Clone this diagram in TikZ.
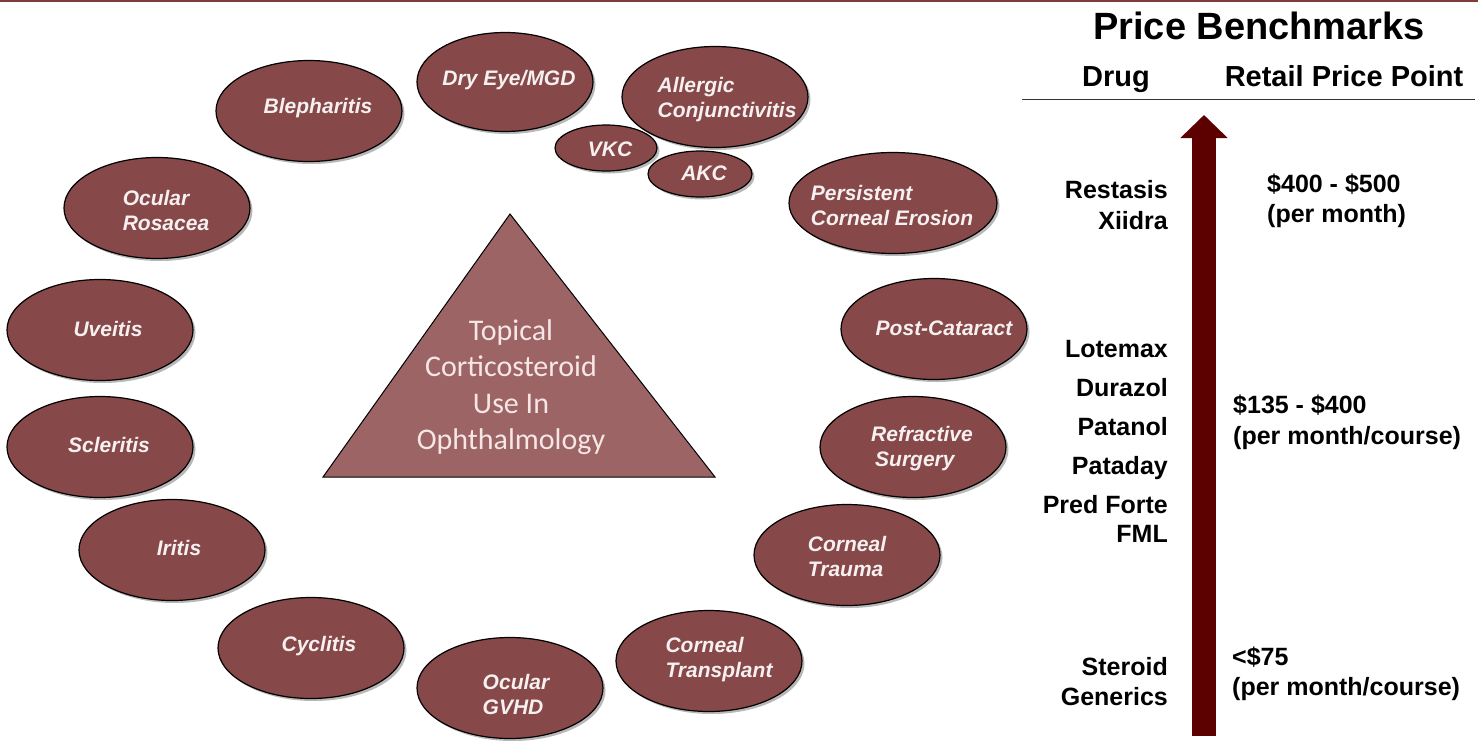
\documentclass[tikz,border=0pt]{standalone}
\usepackage{fontspec}
\setmainfont{Liberation Sans}
\newfontfamily\calib{Carlito}
\usetikzlibrary{shapes.geometric,shadows,arrows.meta}
\definecolor{bubfill}{RGB}{134,72,72}
\definecolor{bubtext}{RGB}{246,240,240}
\definecolor{trifill}{RGB}{156,100,100}
\definecolor{tritext}{RGB}{246,230,230}
\definecolor{arrowcol}{RGB}{92,0,0}
\definecolor{topcol}{RGB}{128,60,60}
\tikzset{
  bub/.style={ellipse, draw=black, line width=1.2pt, fill=bubfill, minimum width=186pt, minimum height=101pt, inner sep=0pt,
    drop shadow={shadow xshift=2.5pt, shadow yshift=-2.5pt, opacity=0.28, fill=black}},
  btxt/.style={font=\bfseries\itshape\fontsize{21}{25}\selectfont, text=bubtext, align=left, inner sep=0pt},
  tri/.style={draw=black, line width=1pt, fill=trifill},
  tritxt/.style={font=\calib\fontsize{30}{36.5}\selectfont, text=tritext, align=center, inner sep=0pt},
  rtitle/.style={font=\bfseries\fontsize{38}{44}\selectfont, inner sep=0pt},
  rhead/.style={font=\bfseries\fontsize{29}{34}\selectfont, inner sep=0pt},
  rtxt/.style={font=\bfseries\fontsize{25}{30}\selectfont, inner sep=0pt},
  bigarrow/.style={draw=arrowcol, line width=24pt, -{Triangle[width=46pt,length=23pt]}},
}
\begin{document}
\begin{tikzpicture}[x=1pt,y=-1pt]
\useasboundingbox (0,0) rectangle (1478,742);
\fill[white] (0,0) rectangle (1478,742);
\draw[topcol, line width=2.5pt] (0,1.2) -- (1478,1.2);

% ellipses
\node[bub] (bleph) at (309,111) {};
\node[bub, minimum width=176pt, minimum height=99pt] (dry) at (505,82) {};
\node[bub] (allerg) at (715,97) {};
\node[bub, minimum width=102pt, minimum height=46pt] (vkc) at (606,148) {};
\node[bub, minimum width=104pt, minimum height=46pt] (akc) at (700,174) {};
\node[bub, minimum width=208pt] (persist) at (893,203) {};
\node[bub] (rosacea) at (157,208) {};
\node[bub] (uveitis) at (100,330) {};
\node[bub] (scler) at (100,447) {};
\node[bub] (iritis) at (172,550) {};
\node[bub] (cycl) at (311,648) {};
\node[bub] (gvhd) at (510,688) {};
\node[bub] (transp) at (709,661) {};
\node[bub] (trauma) at (847,555) {};
\node[bub] (refr) at (913,447) {};
\node[bub] (postcat) at (934,329) {};

% ellipse texts
\node[btxt] (bleph-t) at (318,108) {Blepharitis};
\node[btxt] (dry-t) at (509,80) {Dry Eye/MGD};
\node[btxt] (allerg-t) at (727,100) {Allergic\\Conjunctivitis};
\node[btxt] (vkc-t) at (610,149) {VKC};
\node[btxt] (akc-t) at (704,173) {AKC};
\node[btxt] (persist-t) at (892,205) {Persistent\\Corneal Erosion};
\node[btxt] (rosacea-t) at (166,210) {Ocular\\Rosacea};
\node[btxt] (uveitis-t) at (108,329) {Uveitis};
\node[btxt] (scler-t) at (109,445) {Scleritis};
\node[btxt] (iritis-t) at (179,548) {Iritis};
\node[btxt] (cycl-t) at (319,646) {Cyclitis};
\node[btxt] (gvhd-t) at (516,694) {Ocular\\GVHD};
\node[btxt] (transp-t) at (719,660) {Corneal\\Transplant};
\node[btxt] (trauma-t) at (847,556) {Corneal\\Trauma};
\node[btxt] (refr-t) at (922,449) {Refractive\\\hspace*{4pt}Surgery};
\node[btxt] (postcat-t) at (944,328) {Post-Cataract};

% central triangle
\coordinate (tA) at (510,214);
\coordinate (tB) at (323,477);
\coordinate (tC) at (715,477);
\draw[tri] (tA) -- (tB) -- (tC) -- cycle;
\node[tritxt] (tri-t) at (511,387) {Topical\\Corticosteroid\\Use In\\Ophthalmology};

% price benchmarks
\node[rtitle, anchor=base] (title) at (1259,39) {Price Benchmarks};
\node[rhead, anchor=base] (hdrug) at (1116,86) {Drug};
\node[rhead, anchor=base] (hprice) at (1344,86) {Retail Price Point};
\coordinate (ruleL) at (1022,99);
\coordinate (ruleR) at (1475,99);
\draw[black!80, line width=1pt] (ruleL) -- (ruleR);

\coordinate (abot) at (1204,736);
\coordinate (atip) at (1204,115);
\draw[bigarrow] (abot) -- (atip);

\node[rtxt, anchor=base east] (d1) at (1168,198) {Restasis};
\node[rtxt, anchor=base east] (d2) at (1168,229) {Xiidra};
\node[rtxt, anchor=base east] (d3) at (1168,357) {Lotemax};
\node[rtxt, anchor=base east] (d4) at (1168,396) {Durazol};
\node[rtxt, anchor=base east] (d5) at (1168,435) {Patanol};
\node[rtxt, anchor=base east] (d6) at (1168,474) {Pataday};
\node[rtxt, anchor=base east] (d7) at (1168,513) {Pred Forte};
\node[rtxt, anchor=base east] (d8) at (1168,542) {FML};
\node[rtxt, anchor=base east] (d9) at (1168,675) {Steroid};
\node[rtxt, anchor=base east] (d10) at (1168,705) {Generics};

\node[rtxt, anchor=base west] (p1) at (1267,192) {\$400 - \$500};
\node[rtxt, anchor=base west] (p2) at (1267,222) {(per month)};
\node[rtxt, anchor=base west] (p3) at (1233,413) {\$135 - \$400};
\node[rtxt, anchor=base west] (p4) at (1233,444) {(per month/course)};
\node[rtxt, anchor=base west] (p5) at (1232,665) {<\$75};
\node[rtxt, anchor=base west] (p6) at (1232,695) {(per month/course)};
\end{tikzpicture}
\end{document}
